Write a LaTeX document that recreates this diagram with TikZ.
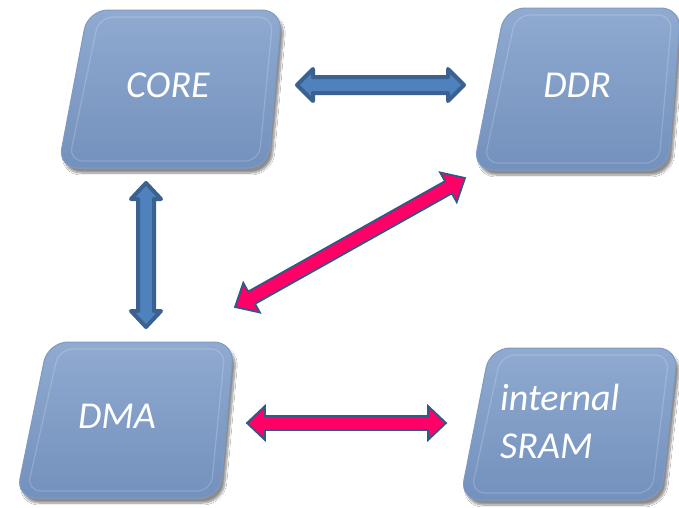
\documentclass[tikz,border=0pt]{standalone}
\usepackage{fontspec}
\setmainfont{Carlito}
\usetikzlibrary{calc,shadows.blur}
\definecolor{boxtop}{HTML}{90AAD0}
\definecolor{boxbot}{HTML}{7391BD}
\definecolor{boxedge}{HTML}{7F9AC4}
\definecolor{bluefill}{HTML}{4F81BD}
\definecolor{blueline}{HTML}{3B6191}
\definecolor{redfill}{HTML}{FF0066}
\definecolor{redline}{HTML}{2E5A8A}
\tikzset{
  boxnode/.style={draw=none, inner sep=0pt, outer sep=0pt},
  boxshape/.style={rounded corners=20pt, top color=boxtop, bottom color=boxbot,
    draw=boxedge, line width=1pt,
    blur shadow={shadow xshift=3pt, shadow yshift=-5pt, shadow blur steps=10, shadow opacity=45}},
  bevel/.style={rounded corners=14pt, draw=white, draw opacity=0.18, line width=1.2pt},
  lbl/.style={text=white, font=\fontsize{38}{48}\selectfont\itshape, inner sep=0pt},
  bluearrow/.style={fill=bluefill, draw=blueline, line width=4pt, line join=round},
  redarrow/.style={fill=redfill, draw=redline, line width=1.8pt, line join=miter},
}
% #1 style, #2 from, #3 to, #4 shaft half, #5 head half, #6 head length
\newcommand\fatarrow[6]{%
  \path let \p1=($(#3)-(#2)$) in \pgfextra{%
    \pgfmathsetmacro\tmplen{veclen(\x1,\y1)}%
    \pgfmathsetmacro\tmpang{atan2(\y1,\x1)}%
    \xdef\arlen{\tmplen}\xdef\arang{\tmpang}};
  \pgfmathsetmacro\arB{\arlen-#6}%
  \draw[#1, shift={(#2)}, rotate=\arang]
    (0pt,0pt) -- (#6pt,#5pt) -- (#6pt,#4pt) -- (\arB pt,#4pt) -- (\arB pt,#5pt)
    -- (\arlen pt,0pt) -- (\arB pt,-#5pt) -- (\arB pt,-#4pt) -- (#6pt,-#4pt)
    -- (#6pt,-#5pt) -- cycle;
}
% name, left skew, right skew
\newcommand\slantbox[3]{%
  \path[boxshape] ([xshift=#2pt]#1.north west) -- (#1.north east)
    -- ([xshift=-#3pt]#1.south east) -- (#1.south west) -- cycle;
  \path[bevel] ($([xshift=#2pt]#1.north west)+(11,7)$) -- ($(#1.north east)+(-9,7)$)
    -- ($([xshift=-#3pt]#1.south east)+(-9,-7)$) -- ($(#1.south west)+(11,-7)$) -- cycle;
}
\begin{document}
\begin{tikzpicture}[x=1pt,y=-1pt]
\useasboundingbox[fill=white] (0,0) rectangle (679,507);
% boxes
\node[boxnode, minimum width=224pt, minimum height=158pt] (core) at (170,89) {};
\node[boxnode, minimum width=208pt, minimum height=162pt] (ddr) at (577,89) {};
\node[boxnode, minimum width=218pt, minimum height=156pt] (dma) at (125,420) {};
\node[boxnode, minimum width=218pt, minimum height=152pt] (sram) at (569,424) {};
\slantbox{core}{30}{14}
\slantbox{ddr}{32}{13}
\slantbox{dma}{32}{14}
\slantbox{sram}{30}{17}
\node[lbl, anchor=base] (coret) at (168,97) {CORE};
\node[lbl, anchor=base] (ddrt) at (577,97) {DDR};
\node[lbl, anchor=base] (dmat) at (117,428) {DMA};
\node[lbl, anchor=base west] (sramt1) at (500,410) {internal};
\node[lbl, anchor=base west] (sramt2) at (500,458) {SRAM};
% arrow end points
\coordinate (a1) at (297,85);
\coordinate (b1) at (464,85);
\coordinate (a2) at (146,183);
\coordinate (b2) at (146,327);
\coordinate (a3) at (465,178);
\coordinate (b3) at (235,307);
\coordinate (a4) at (247,423);
\coordinate (b4) at (446,423);
\fatarrow{bluearrow}{a1}{b1}{8}{16}{16}
\fatarrow{bluearrow}{a2}{b2}{8}{15}{16}
\fatarrow{redarrow}{a3}{b3}{7}{17}{19}
\fatarrow{redarrow}{a4}{b4}{7}{17}{18}
\end{tikzpicture}
\end{document}
